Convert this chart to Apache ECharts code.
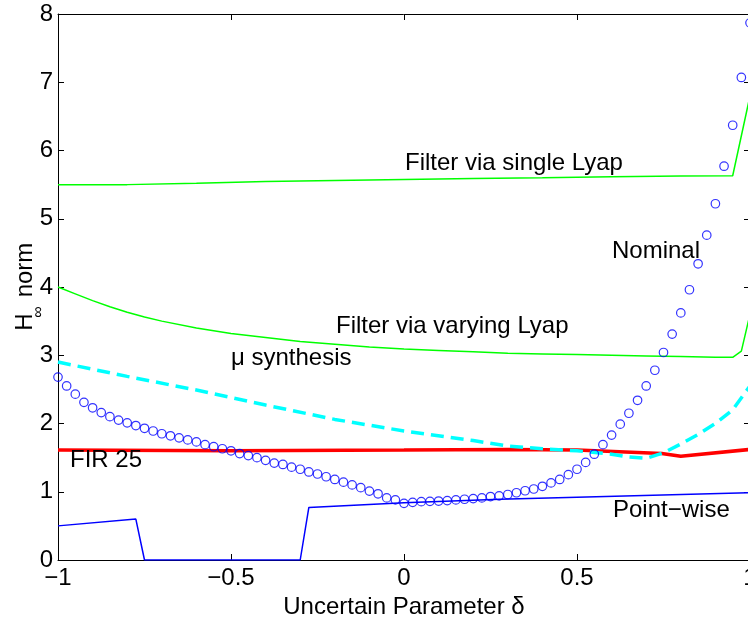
<!DOCTYPE html>
<html>
<head>
<meta charset="utf-8">
<script src="https://cdn.jsdelivr.net/npm/echarts@6/dist/echarts.min.js"></script>
<style>
  html, body { margin: 0; padding: 0; background: #fff; }
  #chart { width: 748px; height: 620px; }
</style>
</head>
<body>
<div id="chart"></div>
<script>
// sampling grid of the uncertain parameter (step 0.025)
const deltaGrid = Array.from({ length: 81 }, (_, i) => Math.round((-1 + i * 0.025) * 1000) / 1000)

// nominal filter (circles), one value per grid point
const nominalY = [
  2.68, 2.55, 2.43, 2.31, 2.23, 2.16, 2.10, 2.05, 2.01, 1.97,
  1.93, 1.89, 1.85, 1.82, 1.79, 1.76, 1.73, 1.69, 1.66, 1.63,
  1.60, 1.56, 1.53, 1.50, 1.46, 1.42, 1.40, 1.36, 1.33, 1.29,
  1.26, 1.22, 1.18, 1.14, 1.10, 1.06, 1.01, 0.97, 0.91, 0.88,
  0.83, 0.845, 0.855, 0.86, 0.864, 0.87, 0.88, 0.89, 0.90, 0.91,
  0.93, 0.94, 0.96, 0.985, 1.015, 1.04, 1.08, 1.13, 1.18, 1.25,
  1.33, 1.43, 1.55, 1.69, 1.83, 1.99, 2.15, 2.34, 2.55, 2.78,
  3.04, 3.31, 3.62, 3.96, 4.34, 4.76, 5.22, 5.77, 6.37, 7.07,
  7.87
]

// filter via single Lyapunov function
const singleLyapX = [-1, -0.8, -0.6, -0.4, -0.2, 0, 0.2, 0.4, 0.6, 0.8, 0.95, 1]
const singleLyapY = [5.50, 5.50, 5.52, 5.545, 5.56, 5.575, 5.59, 5.60, 5.615, 5.625, 5.63, 6.8]

// filter via parameter-varying Lyapunov function
const varyLyapX = [-1, -0.95, -0.9, -0.85, -0.8, -0.75, -0.7, -0.6, -0.5, -0.4, -0.3, -0.2, -0.1, 0, 0.1, 0.2, 0.3, 0.4, 0.5, 0.6, 0.7, 0.8, 0.9, 0.95, 0.975, 1]
const varyLyapY = [4.00, 3.90, 3.80, 3.71, 3.63, 3.56, 3.50, 3.40, 3.32, 3.26, 3.20, 3.16, 3.12, 3.09, 3.07, 3.05, 3.03, 3.02, 3.01, 3.00, 2.99, 2.98, 2.97, 2.97, 3.06, 3.6]

// mu synthesis
const muX = [-1, -0.8, -0.6, -0.4, -0.2, 0, 0.2, 0.3, 0.4, 0.5, 0.6, 0.65, 0.7, 0.75, 0.8, 0.85, 0.9, 0.95, 1]
const muY = [2.90, 2.69, 2.49, 2.27, 2.06, 1.89, 1.75, 1.67, 1.63, 1.60, 1.55, 1.51, 1.49, 1.57, 1.70, 1.84, 2.00, 2.20, 2.55]

// FIR filter of order 25
const firX = [-1, -0.5, 0, 0.3, 0.5, 0.745, 0.8, 1]
const firY = [1.61, 1.60, 1.61, 1.62, 1.61, 1.56, 1.52, 1.62]

// point-wise design
const pointX = [-1, -0.775, -0.75, -0.3, -0.275, 0, 0.277, 0.5, 1]
const pointY = [0.50, 0.60, 0, 0, 0.77, 0.84, 0.89, 0.92, 0.985]

const xTicks = [-1, -0.5, 0, 0.5, 1]

const FONT = '"Liberation Sans", Arial, Helvetica, sans-serif'

const zip = (xs, ys) => xs.map((x, i) => [x, ys[i]])

const chart = echarts.init(document.getElementById('chart'), null, { renderer: 'canvas' })

const axisCommon = {
  type: 'value',
  splitLine: { show: false },
  axisLine: { show: true, onZero: false, lineStyle: { color: '#000', width: 1 }},
  axisTick: { show: true, inside: true, length: 6, lineStyle: { color: '#000' }}
}

const label = (text, left, y) => ({
  type: 'text',
  left: left,
  top: y - 14,
  style: { text: text, font: '24px ' + FONT, fill: '#000' },
  z: 100
})

chart.setOption({
  animation: false,
  backgroundColor: '#fff',
  grid: { left: 58, top: 14, width: 692, height: 546, containLabel: false, outerBoundsMode: 'none' },
  xAxis: [
    {
      ...axisCommon,
      position: 'bottom',
      min: -1,
      max: 1,
      interval: 0.5,
      axisLabel: {
        margin: 6,
        color: '#000',
        fontSize: 24,
        fontFamily: FONT,
        formatter: v => xTicks.includes(v) ? String(v).replace('-', '\u2212') : ''
      },
      name: 'Uncertain Parameter \u03b4',
      nameLocation: 'middle',
      nameGap: 33,
      nameTextStyle: { color: '#000', fontSize: 24, fontFamily: FONT }
    },
    {
      ...axisCommon,
      position: 'top',
      min: -1,
      max: 1,
      interval: 0.5,
      axisLabel: { show: false }
    }
  ],
  yAxis: [
    {
      ...axisCommon,
      position: 'left',
      min: 0,
      max: 8,
      interval: 1,
      axisLabel: { margin: 5, color: '#000', fontSize: 24, fontFamily: FONT }
    },
    {
      ...axisCommon,
      position: 'right',
      min: 0,
      max: 8,
      interval: 1,
      axisLabel: { show: false }
    }
  ],
  graphic: [
    // y axis title: H with an infinity subscript, rotated
    { type: 'text', x: 25, y: 322, rotation: Math.PI / 2,
      style: { text: 'H', font: '24px ' + FONT, fill: '#000', align: 'center', verticalAlign: 'middle' }},
    { type: 'text', x: 39, y: 312, rotation: Math.PI / 2,
      style: { text: '\u221e', font: '16px ' + FONT, fill: '#000', align: 'center', verticalAlign: 'middle' }},
    { type: 'text', x: 25, y: 270, rotation: Math.PI / 2,
      style: { text: 'norm', font: '24px ' + FONT, fill: '#000', align: 'center', verticalAlign: 'middle' }},
    label('Filter via single Lyap', 405, 165),
    label('Nominal', 612, 253),
    label('Filter via varying Lyap', 336, 328),
    label('\u03bc synthesis', 231, 360),
    label('FIR 25', 70, 462),
    label('Point\u2212wise', 613, 512)
  ],
  series: [
    {
      name: 'Point-wise',
      type: 'line',
      data: zip(pointX, pointY),
      showSymbol: false,
      lineStyle: { color: '#0000ff', width: 1.5 },
      z: 3
    },
    {
      name: 'FIR 25',
      type: 'line',
      data: zip(firX, firY),
      showSymbol: false,
      lineStyle: { color: '#ff0000', width: 3.5 },
      z: 4
    },
    {
      name: 'mu synthesis',
      type: 'line',
      data: zip(muX, muY),
      showSymbol: false,
      lineStyle: { color: '#00ffff', width: 3.5, type: [13, 7] },
      z: 5
    },
    {
      name: 'Filter via single Lyap',
      type: 'line',
      data: zip(singleLyapX, singleLyapY),
      showSymbol: false,
      lineStyle: { color: '#00ff00', width: 1.5 },
      z: 4
    },
    {
      name: 'Filter via varying Lyap',
      type: 'line',
      data: zip(varyLyapX, varyLyapY),
      showSymbol: false,
      lineStyle: { color: '#00ff00', width: 1.5 },
      z: 4
    },
    {
      name: 'Nominal',
      type: 'scatter',
      data: zip(deltaGrid, nominalY),
      symbol: 'circle',
      symbolSize: 8.5,
      itemStyle: { color: 'rgba(0,0,0,0)', borderColor: '#0000ff', borderWidth: 1.2 },
      z: 6
    }
  ]
})
</script>
</body>
</html>
